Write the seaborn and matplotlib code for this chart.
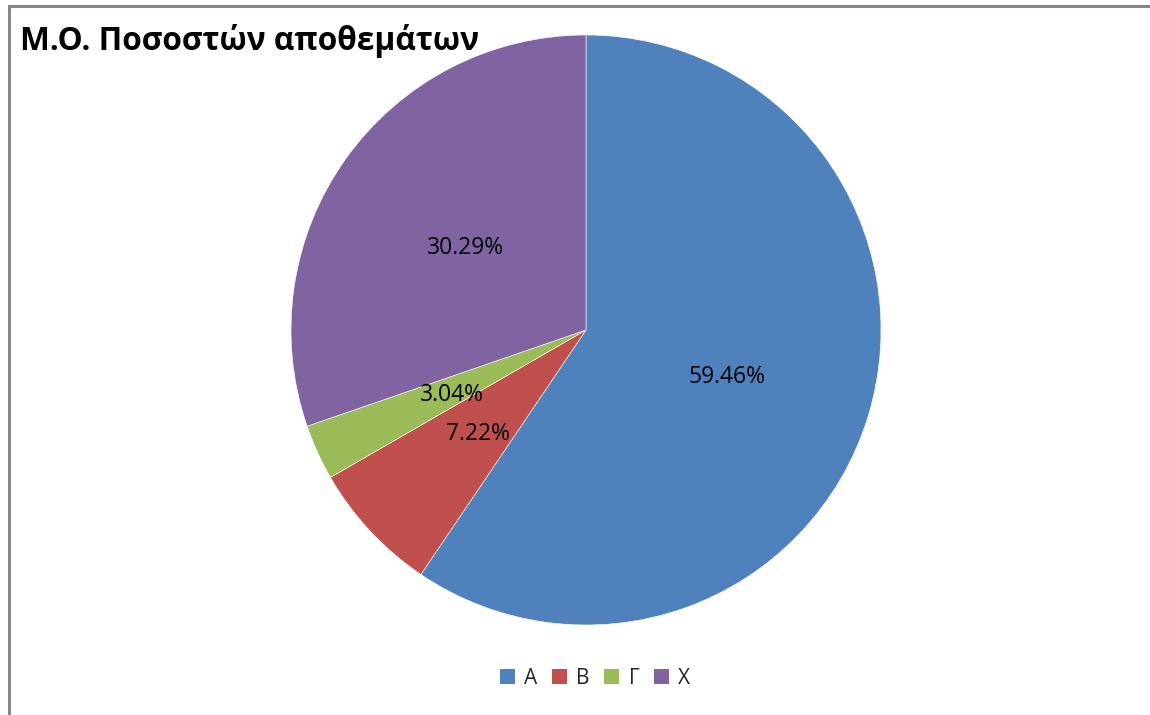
import matplotlib
matplotlib.use("Agg")
import matplotlib.pyplot as plt
import seaborn as sns
from matplotlib.patches import Rectangle, Patch

sns.set_theme(style="white")
plt.rcParams["font.family"] = ["Open Sans", "DejaVu Sans"]

categories = ["Α", "Β", "Γ", "Χ"]
shares = [59.46, 7.22, 3.04, 30.29]
colors = ["#4F81BD", "#C0504D", "#9BBB59", "#8064A2"]
title = "Μ.Ο. Ποσοστών αποθεμάτων"

W, H = 1150, 715
fig = plt.figure(figsize=(W / 100, H / 100), dpi=100)
fig.patch.set_facecolor("white")

# chart frame (top and left edges visible)
fig.add_artist(Rectangle((8.5 / W, -0.05), 1.2, 1 - 5.5 / H + 0.05,
                         transform=fig.transFigure, fill=False,
                         edgecolor="#868686", linewidth=2.2))

cx, cy, r = 586, 330, 295
ax = fig.add_axes([(cx - r) / W, (H - cy - r) / H, 2 * r / W, 2 * r / H])
wedges, texts, autotexts = ax.pie(
    shares, colors=colors, startangle=90, counterclock=False,
    autopct=lambda p: "", pctdistance=0.5, radius=1.0,
    wedgeprops=dict(edgecolor="#ffffff", linewidth=0.4, alpha=1),
)
for w, v, t in zip(wedges, shares, autotexts):
    t.set_text(f"{v:.2f}%")
    t.set_fontsize(16.5)
    t.set_color("black")
    x, y = t.get_position()
    t.set_position((x, y - 0.013))
ax.set_xlim(-1, 1)
ax.set_ylim(-1, 1)
ax.set_aspect("equal")
ax.axis("off")

fig.text(20 / W, 1 - 41 / H, title, fontsize=22.8, fontweight="bold",
         color="black", ha="left", va="center")

handles = [Patch(facecolor=c, edgecolor="none") for c in colors]
fig.legend(handles, categories, loc="center", bbox_to_anchor=(595 / W, 1 - 678 / H),
           ncol=4, frameon=False, fontsize=15, handlelength=0.72, handleheight=0.72,
           handletextpad=0.45, columnspacing=0.7)

fig.savefig("out.png", dpi=100, facecolor="white")
